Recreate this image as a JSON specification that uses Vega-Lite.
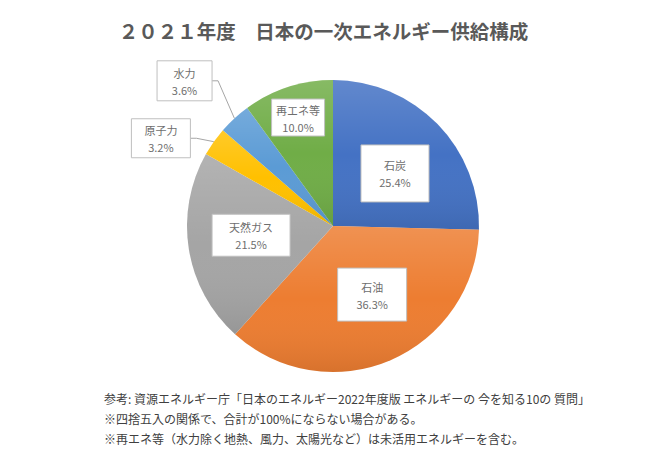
{
  "$schema": "https://vega.github.io/schema/vega-lite/v6.json",
  "background": "white",
  "padding": {"left": 104, "top": 22, "right": 0, "bottom": 0},
  "config": {"view": {"stroke": null}, "font": "Noto Sans CJK JP"},
  "title": {
    "text": [
      "参考: 資源エネルギー庁「日本のエネルギー2022年度版 エネルギーの 今を知る10の 質問」",
      "※四捨五入の関係で、合計が100%にならない場合がある。",
      "※再エネ等（水力除く地熱、風力、太陽光など）は未活用エネルギーを含む。"
    ],
    "orient": "bottom",
    "anchor": "start",
    "offset": 19,
    "fontSize": 12,
    "fontWeight": "normal",
    "color": "#404040",
    "lineHeight": 20,
    "baseline": "top",
    "font": "Noto Sans CJK JP"
  },
  "vconcat": [
    {
      "title": {
        "text": "２０２１年度　日本の一次エネルギー供給構成",
        "anchor": "middle",
        "frame": "group",
        "fontSize": 19.5,
        "fontWeight": "bold",
        "color": "#595959",
        "offset": 17,
        "dx": -9.5,
        "font": "Noto Sans CJK JP"
      },
      "width": 458,
      "height": 300,
      "data": {
        "values": [
          {"name": "石炭", "value": 25.4},
          {"name": "石油", "value": 36.3},
          {"name": "天然ガス", "value": 21.5},
          {"name": "原子力", "value": 3.2},
          {"name": "水力", "value": 3.6},
          {"name": "再エネ等", "value": 10.0}
        ]
      },
      "transform": [
        {"stack": "value", "groupby": [], "as": ["v0", "v1"]},
        {"calculate": "PI*(datum.v0+datum.v1)/100", "as": "a"},
        {"calculate": "{'石炭':81,'石油':79,'天然ガス':83,'原子力':190,'水力':205,'再エネ等':113}[datum.name]", "as": "r"},
        {"calculate": "{'石炭':4,'石油':8,'天然ガス':0,'原子力':-17,'水力':-10,'再エネ等':0}[datum.name]", "as": "ox"},
        {"calculate": "{'石炭':4,'石油':-4,'天然ガス':-4,'原子力':22,'水力':6,'再エネ等':-1}[datum.name]", "as": "oy"},
        {"calculate": "{'石炭':68,'石油':69,'天然ガス':78,'原子力':59,'水力':55,'再エネ等':53}[datum.name]", "as": "bw"},
        {"calculate": "{'石炭':57,'石油':53,'天然ガス':42,'原子力':39,'水力':40,'再エネ等':37}[datum.name]", "as": "bh"},
        {"calculate": "datum.r*sin(datum.a)+datum.ox", "as": "bx"},
        {"calculate": "-datum.r*cos(datum.a)+datum.oy", "as": "by"},
        {"calculate": "datum.bx-datum.bw/2", "as": "bl"},
        {"calculate": "datum.bx+datum.bw/2", "as": "br"},
        {"calculate": "datum.by-datum.bh/2", "as": "bt"},
        {"calculate": "datum.by+datum.bh/2", "as": "bb"},
        {"calculate": "datum.br+6", "as": "elbow"},
        {"calculate": "146*sin(datum.a)", "as": "ex"},
        {"calculate": "-146*cos(datum.a)", "as": "ey"},
        {"calculate": "datum.name+'\\n'+format(datum.value,'.1f')+'%'", "as": "label"}
      ],
      "layer": [
        {
          "mark": {"type": "arc", "outerRadius": 146},
          "encoding": {
            "theta": {"field": "v0", "type": "quantitative", "scale": {"domain": [0, 100]}},
            "theta2": {"field": "v1"},
            "color": {
              "field": "name",
              "type": "nominal",
              "legend": null,
              "scale": {
                "domain": ["石炭", "石油", "天然ガス", "原子力", "水力", "再エネ等"],
                "range": ["#4472C4", "#ED7D31", "#A5A5A5", "#FFC000", "#5B9BD5", "#70AD47"]
              }
            }
          }
        },
        {
          "mark": {
            "type": "arc",
            "outerRadius": 146,
            "fill": {
              "gradient": "linear",
              "x1": 0, "y1": 0, "x2": 0, "y2": 1,
              "stops": [
                {"offset": 0, "color": "rgba(255,255,255,0.16)"},
                {"offset": 0.5, "color": "rgba(255,255,255,0)"},
                {"offset": 1, "color": "rgba(0,0,0,0.09)"}
              ]
            }
          },
          "encoding": {
            "theta": {"field": "v0", "type": "quantitative", "scale": {"domain": [0, 100]}},
            "theta2": {"field": "v1"}
          }
        },
        {
          "transform": [{"filter": "datum.value < 5"}],
          "mark": {"type": "rule", "color": "#A6A6A6", "strokeWidth": 1},
          "encoding": {
            "x": {"field": "br", "type": "quantitative", "axis": null, "scale": {"domain": [-229, 229], "nice": false, "zero": false}},
            "x2": {"field": "elbow"},
            "y": {"field": "by", "type": "quantitative", "axis": null, "scale": {"domain": [-150, 150], "nice": false, "zero": false, "reverse": true}},
            "y2": {"field": "by"}
          }
        },
        {
          "transform": [{"filter": "datum.value < 5"}],
          "mark": {"type": "rule", "color": "#A6A6A6", "strokeWidth": 1},
          "encoding": {
            "x": {"field": "elbow", "type": "quantitative"},
            "x2": {"field": "ex"},
            "y": {"field": "by", "type": "quantitative"},
            "y2": {"field": "ey"}
          }
        },
        {
          "mark": {"type": "rect", "fill": "white", "stroke": "#BFBFBF", "strokeWidth": 1},
          "encoding": {
            "x": {"field": "bl", "type": "quantitative"},
            "x2": {"field": "br"},
            "y": {"field": "bt", "type": "quantitative"},
            "y2": {"field": "bb"}
          }
        },
        {
          "mark": {"type": "text", "align": "center", "baseline": "middle", "fontSize": 11, "lineHeight": 17, "lineBreak": "\n", "fill": "#6E6E6E", "dy": -6, "font": "Noto Sans CJK JP"},
          "encoding": {
            "x": {"field": "bx", "type": "quantitative"},
            "y": {"field": "by", "type": "quantitative"},
            "text": {"field": "label"}
          }
        }
      ]
    }
  ]
}
